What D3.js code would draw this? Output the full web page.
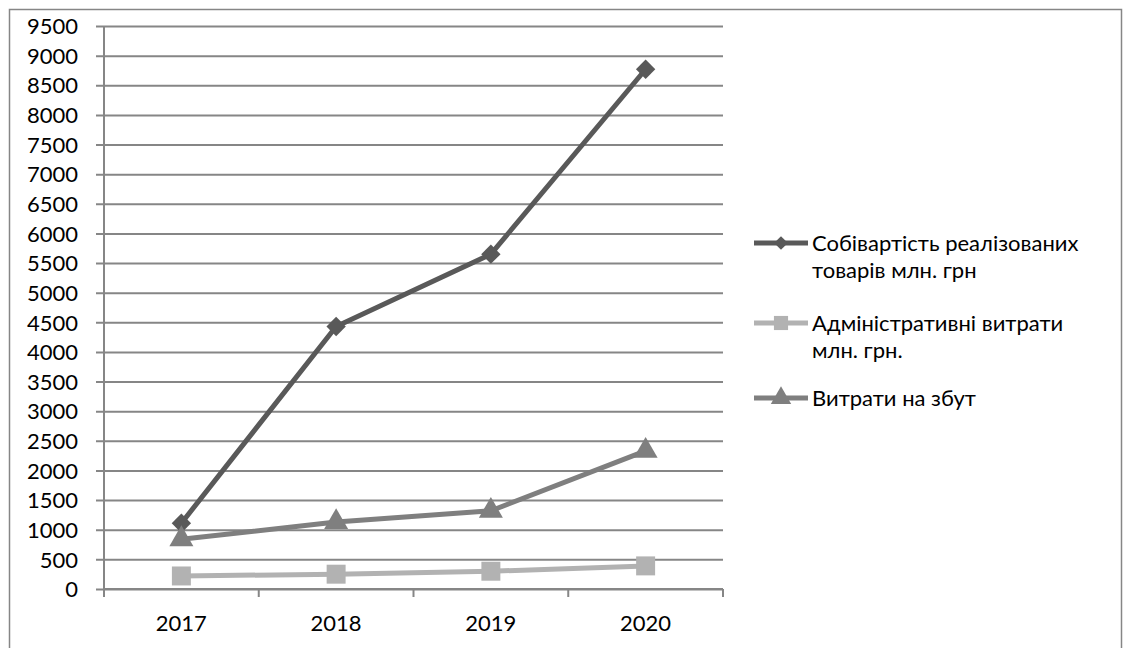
<!DOCTYPE html>
<html>
<head>
<meta charset="utf-8">
<script src="https://cdn.jsdelivr.net/npm/d3@7"></script>
<style>
  html, body { margin: 0; padding: 0; background: #fff; }
  svg { display: block; }
  text { font-family: Lato, "Open Sans", sans-serif; fill: #000; }
</style>
</head>
<body>
<svg id="chart" width="1134" height="648"></svg>
<script>
// Years on the category axis
const years = ["2017", "2018", "2019", "2020"];

// Series values, млн. грн
const costOfGoods = [1110, 4430, 5650, 8770];
const adminExpenses = [220, 250, 300, 390];
const sellingExpenses = [840, 1130, 1320, 2330];

// Series names shown in the legend (each as wrapped lines)
const seriesNames = [
  ["Собівартість реалізованих", "товарів млн. грн"],
  ["Адміністративні витрати", "млн. грн."],
  ["Витрати на збут"]
];

// Value axis ticks
const yTicks = d3.range(0, 9501, 500);

const series = [
  { name: seriesNames[0], values: costOfGoods, color: "#595959", marker: "diamond" },
  { name: seriesNames[1], values: adminExpenses, color: "#b2b2b2", marker: "square" },
  { name: seriesNames[2], values: sellingExpenses, color: "#7f7f7f", marker: "triangle" }
];

const svg = d3.select("#chart");

// Outer chart frame
svg.append("rect")
  .attr("x", 9.5).attr("y", 9.5)
  .attr("width", 1112).attr("height", 660)
  .attr("fill", "none").attr("stroke", "#868686").attr("stroke-width", 1.5);

const plot = { left: 104, right: 723, top: 26, bottom: 589 };

const x = d3.scaleBand().domain(years).range([plot.left, plot.right]);
const y = d3.scaleLinear().domain([0, 9500]).range([plot.bottom, plot.top]);

const fontSize = 22;

// Horizontal gridlines with left tick marks
const yAxis = d3.axisLeft(y).tickValues(yTicks)
  .tickSize(-(plot.right - plot.left)).tickPadding(16).tickFormat(d3.format("d"));
const gy = svg.append("g").attr("transform", `translate(${plot.left},0)`).call(yAxis);
gy.select(".domain").remove();
gy.selectAll(".tick line")
  .attr("x1", -8)
  .attr("stroke", "#868686").attr("stroke-width", 2);
gy.selectAll(".tick text")
  .attr("font-size", fontSize).attr("x", -26).attr("dy", "0.35em")
  .style("font-family", "Lato, 'Open Sans', sans-serif");

// Vertical value-axis line
svg.append("line")
  .attr("x1", plot.left).attr("x2", plot.left)
  .attr("y1", plot.top).attr("y2", plot.bottom)
  .attr("stroke", "#868686").attr("stroke-width", 2);

// Category axis with ticks at band boundaries
const boundaries = years.map(d => x(d)).concat([plot.right]);
const gx = svg.append("g");
gx.append("line")
  .attr("x1", plot.left).attr("x2", plot.right)
  .attr("y1", plot.bottom).attr("y2", plot.bottom)
  .attr("stroke", "#868686").attr("stroke-width", 2);
gx.selectAll("line.tick").data(boundaries).join("line")
  .attr("class", "tick")
  .attr("x1", d => d).attr("x2", d => d)
  .attr("y1", plot.bottom).attr("y2", plot.bottom + 8)
  .attr("stroke", "#868686").attr("stroke-width", 2);
gx.selectAll("text").data(years).join("text")
  .attr("x", d => x(d) + x.bandwidth() / 2)
  .attr("y", 631)
  .attr("text-anchor", "middle")
  .attr("font-size", fontSize)
  .text(d => d);

const cx = d => x(d) + x.bandwidth() / 2;

const symbolTypes = { diamond: d3.symbolDiamond2, square: d3.symbolSquare, triangle: d3.symbolTriangle };
const plotMarkerArea = { diamond: 240, square: 360, triangle: 250 };
const legendMarkerArea = { diamond: 120, square: 200, triangle: 180 };

const line = d3.line().x((d, i) => cx(years[i])).y(d => y(d));

series.forEach(s => {
  svg.append("path")
    .attr("d", line(s.values))
    .attr("fill", "none")
    .attr("stroke", s.color)
    .attr("stroke-width", 5)
    .attr("stroke-linejoin", "round");
  svg.append("g").selectAll("path").data(s.values).join("path")
    .attr("d", d3.symbol(symbolTypes[s.marker], plotMarkerArea[s.marker])())
    .attr("transform", (d, i) => `translate(${cx(years[i])},${y(d)})`)
    .attr("fill", s.color);
});

// Legend
const legendTops = [243, 323, 398];
const legend = svg.append("g");
series.forEach((s, i) => {
  const ly = legendTops[i];
  legend.append("line")
    .attr("x1", 754).attr("x2", 808)
    .attr("y1", ly).attr("y2", ly)
    .attr("stroke", s.color).attr("stroke-width", 5);
  legend.append("path")
    .attr("d", d3.symbol(symbolTypes[s.marker], legendMarkerArea[s.marker])())
    .attr("transform", `translate(781,${ly})`)
    .attr("fill", s.color);
  s.name.forEach((t, j) => {
    legend.append("text")
      .attr("x", 812)
      .attr("y", ly + j * 27)
      .attr("dy", "0.35em")
      .attr("font-size", 22)
      .text(t);
  });
});
</script>
</body>
</html>
